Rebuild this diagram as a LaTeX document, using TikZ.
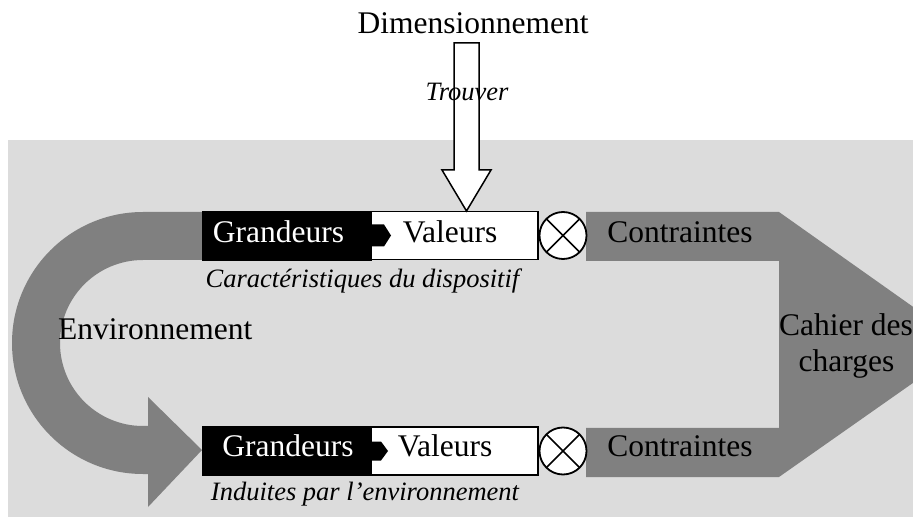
\documentclass[tikz,border=0pt]{standalone}
\usepackage{fontspec}
\setmainfont{Liberation Serif}
\definecolor{bgray}{RGB}{220,220,220}
\definecolor{dgray}{RGB}{128,128,128}
\begin{document}
\begin{tikzpicture}[x=1pt,y=1pt,
  big/.style={font=\fontsize{31.5}{36}\selectfont, inner sep=0pt, anchor=base},
  captext/.style={font=\fontsize{26.5}{30}\selectfont\itshape, inner sep=0pt, anchor=base},
  blackbox/.style={fill=black, draw=black, line width=0.5pt, minimum width=169pt, minimum height=49pt, inner sep=0pt, outer sep=0pt, anchor=west},
  whitebox/.style={fill=white, draw=black, line width=1.3pt, minimum width=167pt, minimum height=48pt, inner sep=0pt, outer sep=0pt, anchor=west},
  mult/.style={circle, draw=black, line width=1.8pt, fill=white, minimum size=47pt, inner sep=0pt, outer sep=0pt},
  notch/.style={fill=black},
  band/.style={fill=dgray},
  bigarrow/.style={fill=white, draw=black, line width=1.5pt}]
\useasboundingbox (0,0) rectangle (913,517);
\clip (0,0) rectangle (913,517);
% background
\fill[bgray] (8,0) rectangle (913,377);
% Environnement curved arrow
\fill[band] (202,305) -- (143,305) arc[start angle=90, end angle=270, radius=131]
  -- (148,43) -- (148,10) -- (202,67) -- (148,120) -- (148,91) -- (143,91)
  arc[start angle=270, end angle=90, radius=83] -- (202,257) -- cycle;
% Contraintes / Cahier des charges shape
\fill[band] (586,305) -- (779,305) -- (967,172) -- (779,40) -- (586,40) -- (586,89)
  -- (779,89) -- (779,256) -- (586,256) -- cycle;
% top row
\node[blackbox] (g1) at (202,281.5) {};
\node[whitebox] (v1) at (371,281.5) {};
\fill[notch] (371,292.5) -- (384,292.5) -- (391,281.5) -- (384,270.5) -- (371,270.5) -- cycle;
\node[mult] (m1) at (563,281.5) {};
\draw[line width=1.5pt] (m1.45) -- (m1.225) (m1.135) -- (m1.315);
% bottom row
\node[blackbox] (g2) at (202,66) {};
\node[whitebox] (v2) at (371,66) {};
\fill[notch] (371,75.5) -- (381,75.5) -- (388,66) -- (381,56.5) -- (371,56.5) -- cycle;
\node[mult] (m2) at (563,66) {};
\draw[line width=1.5pt] (m2.45) -- (m2.225) (m2.135) -- (m2.315);
% Trouver arrow
\draw[bigarrow] (454,474) -- (479,474) -- (479,347) -- (491,347) -- (466.5,306)
  -- (442,347) -- (454,347) -- cycle;
% texts
\node[big] (dim) at (473,483) {Dimensionnement};
\node[captext] (trouver) at (467,416) {Trouver};
\node[big, text=white] (gt1) at (278.5,274) {Grandeurs};
\node[big] (vt1) at (450,274) {Valeurs};
\node[big] (c1) at (680,274.5) {Contraintes};
\node[big, text=white] (gt2) at (288,60) {Grandeurs};
\node[big] (vt2) at (445,60) {Valeurs};
\node[big] (c2) at (680,60) {Contraintes};
\node[big] (cdc1) at (846,181) {Cahier des};
\node[big] (cdc2) at (846.5,145) {charges};
\node[big, anchor=base west] (env) at (58,177) {Environnement};
\node[captext] (car) at (362.5,229) {Caractéristiques du dispositif};
\node[captext] (ind) at (365,17) {Induites par l’environnement};
\end{tikzpicture}
\end{document}
